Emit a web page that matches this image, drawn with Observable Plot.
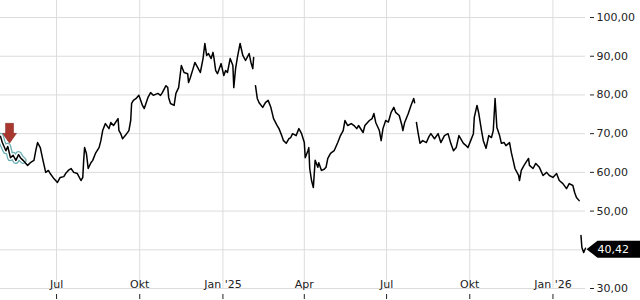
<!DOCTYPE html>
<html>
<head>
<meta charset="utf-8">
<script src="https://cdn.jsdelivr.net/npm/d3@7"></script>
<script src="https://cdn.jsdelivr.net/npm/@observablehq/plot@0.6"></script>
<style>
  html, body { margin: 0; padding: 0; background: #fff; }
  #chart { width: 640px; height: 300px; overflow: hidden; }
</style>
</head>
<body>
<div id="chart"></div>
<script>
const dates = [
"2024-04-30","2024-05-02","2024-05-06","2024-05-08","2024-05-11","2024-05-14","2024-05-17","2024-05-20","2024-05-22","2024-05-25",
"2024-05-30","2024-06-02","2024-06-06","2024-06-08","2024-06-10","2024-06-13","2024-06-16","2024-06-19","2024-06-22","2024-06-24",
"2024-06-28","2024-07-02","2024-07-05","2024-07-09","2024-07-11","2024-07-14","2024-07-17","2024-07-20","2024-07-24","2024-07-28",
"2024-07-30","2024-07-31","2024-08-01","2024-08-03","2024-08-05","2024-08-08","2024-08-10","2024-08-13","2024-08-17","2024-08-19",
"2024-08-21","2024-08-24","2024-08-28","2024-08-30","2024-09-02","2024-09-07","2024-09-08","2024-09-10","2024-09-12","2024-09-15",
"2024-09-19","2024-09-21","2024-09-22","2024-09-24","2024-09-27","2024-09-30","2024-10-02","2024-10-04","2024-10-06","2024-10-10",
"2024-10-13","2024-10-16","2024-10-21","2024-10-24","2024-10-26","2024-10-30","2024-11-01","2024-11-02","2024-11-04","2024-11-08",
"2024-11-10","2024-11-13","2024-11-16","2024-11-19","2024-11-23","2024-11-24","2024-11-26","2024-11-29","2024-12-01","2024-12-04",
"2024-12-07","2024-12-10","2024-12-12","2024-12-14","2024-12-16","2024-12-19","2024-12-21","2024-12-22","2024-12-24","2024-12-26",
"2024-12-30","2025-01-02","2025-01-04","2025-01-06","2025-01-09","2025-01-12","2025-01-13","2025-01-15","2025-01-17","2025-01-20",
"2025-01-23","2025-01-26","2025-01-30","2025-02-01","2025-02-03","2025-02-04","2025-02-05","2025-02-06","2025-02-08","2025-02-10",
"2025-02-14","2025-02-17","2025-02-20","2025-02-23","2025-02-26","2025-03-02","2025-03-04","2025-03-07","2025-03-09","2025-03-12",
"2025-03-15","2025-03-17","2025-03-19","2025-03-23","2025-03-26","2025-03-29","2025-04-01","2025-04-02","2025-04-05","2025-04-06",
"2025-04-07","2025-04-09","2025-04-11","2025-04-13","2025-04-16","2025-04-17","2025-04-20","2025-04-23","2025-04-25","2025-04-27",
"2025-04-30","2025-05-04","2025-05-08","2025-05-11","2025-05-14","2025-05-16","2025-05-19","2025-05-23","2025-05-26","2025-05-29",
"2025-05-31","2025-06-05","2025-06-07","2025-06-12","2025-06-15","2025-06-17","2025-06-19","2025-06-23","2025-06-25","2025-06-27",
"2025-06-30","2025-07-03","2025-07-06","2025-07-09","2025-07-11","2025-07-15","2025-07-18","2025-07-19","2025-07-21","2025-07-25",
"2025-07-28","2025-07-31","2025-08-01","2025-08-02","2025-08-03","2025-08-05","2025-08-07","2025-08-10","2025-08-14","2025-08-17",
"2025-08-19","2025-08-23","2025-08-27","2025-08-30","2025-09-03","2025-09-07","2025-09-10","2025-09-13","2025-09-16","2025-09-19",
"2025-09-24","2025-09-27","2025-09-29","2025-10-02","2025-10-05","2025-10-06","2025-10-09","2025-10-11","2025-10-14","2025-10-16",
"2025-10-19","2025-10-22","2025-10-25","2025-10-27","2025-10-29","2025-10-31","2025-11-03","2025-11-05","2025-11-08","2025-11-10",
"2025-11-14","2025-11-16","2025-11-18","2025-11-20","2025-11-24","2025-11-25","2025-11-27","2025-11-30","2025-12-05","2025-12-06",
"2025-12-10","2025-12-13","2025-12-17","2025-12-21","2025-12-25","2025-12-28","2026-01-01","2026-01-05","2026-01-08","2026-01-12",
"2026-01-16","2026-01-19","2026-01-23","2026-01-25","2026-01-27","2026-01-30","2026-01-31","2026-02-01","2026-02-02","2026-02-04",
"2026-02-06"
];
const prices = [
69.3,67.7,65.6,66.7,63.8,64.4,63.1,64.6,63.8,63.1,
61.8,62.5,63.1,65.6,67.7,66.4,63.1,60.0,60.5,59.7,
58.4,57.4,58.7,58.9,59.7,60.5,61.0,60.0,59.7,57.9,
58.7,63.1,66.4,64.9,61.0,62.5,63.1,64.9,66.4,68.2,
70.8,72.6,71.3,72.9,72.1,73.9,70.8,70.0,68.7,69.5,
70.8,73.4,77.8,78.6,79.1,79.9,78.6,77.3,76.5,79.3,
80.6,79.9,80.4,79.9,80.6,82.4,81.9,79.3,77.8,77.3,
80.4,81.9,87.6,85.8,85.5,83.2,84.5,86.8,88.4,87.1,
85.8,89.4,93.3,90.2,90.7,89.4,91.0,89.7,86.3,85.5,
88.1,85.0,86.3,85.8,89.4,87.6,81.9,86.8,89.7,93.3,
90.2,88.9,90.7,88.4,86.8,89.7,null,82.4,79.1,78.0,
76.8,78.0,78.6,76.8,73.9,72.1,71.3,69.5,68.2,67.5,
68.7,69.0,70.0,69.5,71.3,70.0,67.7,63.8,65.6,66.4,
61.0,57.9,56.1,63.1,61.3,62.5,60.5,60.8,61.3,63.6,
64.9,65.6,67.7,69.5,70.8,73.4,72.1,72.6,72.1,71.3,
72.1,70.3,72.1,73.4,73.9,75.2,72.9,70.8,68.2,71.3,
73.4,73.0,75.5,76.8,75.5,74.7,72.1,70.8,72.9,75.2,
77.3,79.1,78.0,null,72.9,70.0,67.5,68.2,67.7,69.3,
70.0,68.7,70.0,67.7,69.5,70.0,67.5,65.6,66.4,69.5,
67.5,66.9,66.4,68.2,70.0,74.2,77.3,75.2,70.8,68.2,
66.2,69.5,69.0,70.8,79.1,71.6,69.5,67.5,67.7,66.9,
67.7,65.1,63.1,61.0,59.2,57.9,60.5,61.8,63.6,61.8,
61.0,62.3,61.3,59.2,60.0,59.2,58.7,59.7,57.9,57.1,
55.8,57.1,56.6,54.8,53.5,52.7,null,43.7,40.6,39.3,
40.42
];
const highlightCount = 10;          // first points shown with the teal halo
const eventDates = ["2024-05-10"];  // red marker arrow
const eventValues = [67.5];
const yTicks = [30, 40, 50, 60, 70, 80, 90, 100];
const tickDates = ["2024-07-01","2024-10-01","2025-01-01","2025-04-01","2025-07-01","2025-10-01","2026-01-01"];
const tickLabels = ["Jul","Okt","Jan '25","Apr","Jul","Okt","Jan '26"];

const series = dates.map((d, i) => ({date: new Date(d), price: prices[i] == null ? NaN : prices[i]}));
const events = eventDates.map((d, i) => ({date: new Date(d), price: eventValues[i]}));
const last = [series[series.length - 1]];
const xTicks = tickDates.map(d => new Date(d));
const fmtNum = v => v.toFixed(2).replace(".", ",");
const xLabel = d => tickLabels[xTicks.findIndex(t => +t === +d)];

const priceTag = {draw(ctx) {
  ctx.moveTo(0, 0); ctx.lineTo(11, -8.5); ctx.lineTo(60, -8.5);
  ctx.lineTo(60, 8.5); ctx.lineTo(11, 8.5); ctx.closePath();
}};
const downArrow = {draw(ctx) {
  ctx.moveTo(0, 0); ctx.lineTo(-7, -10); ctx.lineTo(-4, -10); ctx.lineTo(-4, -20);
  ctx.lineTo(4, -20); ctx.lineTo(4, -10); ctx.lineTo(7, -10); ctx.closePath();
}};

const chart = Plot.plot({
  width: 640,
  height: 300,
  marginTop: 0,
  marginBottom: 12,
  marginLeft: 0,
  marginRight: 55,
  style: {fontFamily: "'DejaVu Sans', sans-serif", fontSize: "11px", color: "#222", background: "#fff", overflow: "hidden"},
  x: {type: "utc"},
  y: {domain: [30, 104.4]},
  marks: [
    Plot.gridY({ticks: yTicks, stroke: "#dcdcdc", strokeOpacity: 1}),
    Plot.gridX({ticks: xTicks, stroke: "#dcdcdc", strokeOpacity: 1}),
    Plot.line(series.slice(0, highlightCount), {x: "date", y: "price", stroke: "#6aaeb3", strokeWidth: 7, strokeLinejoin: "round", strokeLinecap: "round"}),
    Plot.line(series.slice(0, highlightCount), {x: "date", y: "price", stroke: "#ffffff", strokeWidth: 4.5, strokeLinejoin: "round", strokeLinecap: "round"}),
    Plot.line(series, {x: "date", y: "price", stroke: "#000", strokeWidth: 1.5}),
    Plot.dot(events, {x: "date", y: "price", symbol: downArrow, r: 5, fill: "#a8372f", stroke: "#7e2621", strokeWidth: 0.5}),
    Plot.axisY({anchor: "right", ticks: yTicks, tickSize: 4, dx: 4, tickPadding: 3, tickFormat: fmtNum, label: null, fill: "#222"}),
    Plot.axisX({anchor: "bottom", ticks: xTicks, tickSize: 0, tickPadding: 0, dy: -8, tickFormat: xLabel, label: null, fill: "#222"}),
    Plot.axisX({anchor: "bottom", ticks: xTicks, tickSize: 5, dy: 6, fill: "none", label: null, stroke: "#222"}),
    Plot.dot(last, {x: "date", y: "price", symbol: priceTag, r: 5, fill: "#000", dx: 1, dy: 1}),
    Plot.text(last, {x: "date", y: "price", text: d => fmtNum(d.price), dx: 12, dy: 1, textAnchor: "start", fill: "#fff", fontSize: 11})
  ]
});
document.getElementById("chart").append(chart);
</script>
</body>
</html>
